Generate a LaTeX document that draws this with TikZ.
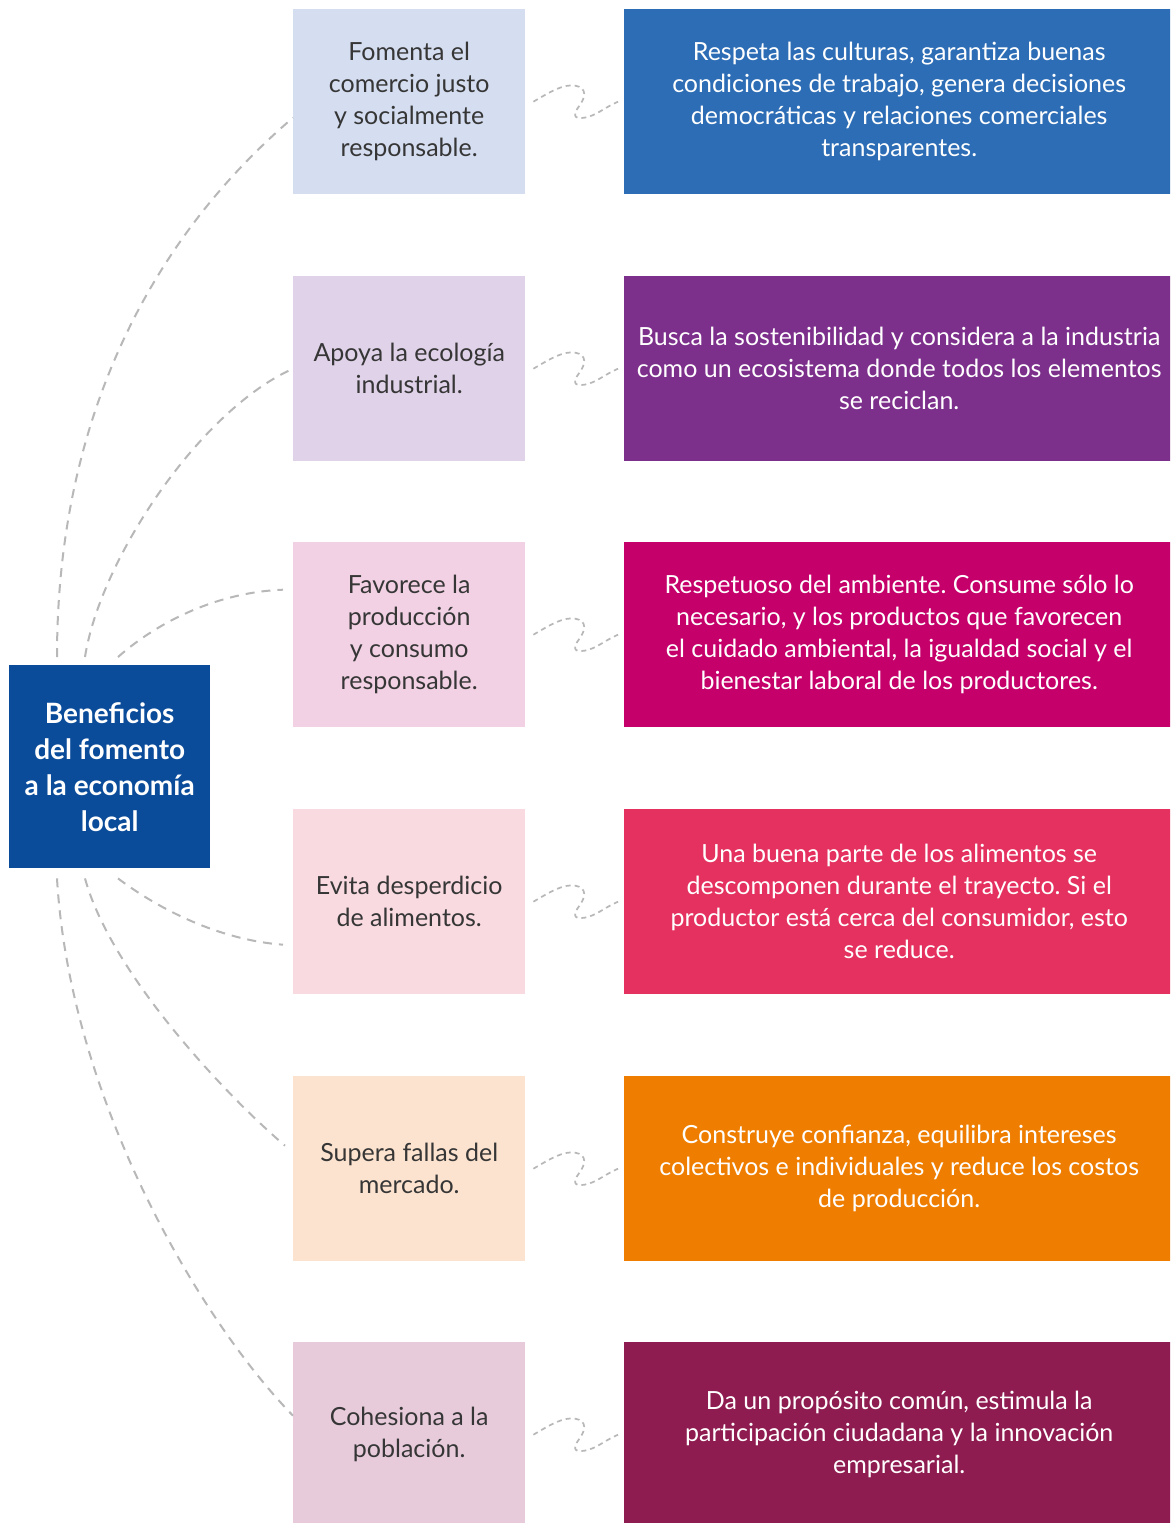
\documentclass[tikz,border=0pt]{standalone}
\usepackage{fontspec}
\setmainfont{Lato}
\frenchspacing
\definecolor{cmain}{HTML}{0A4B9A}
\definecolor{la}{HTML}{D5DEF1}
\definecolor{lb}{HTML}{E0D2E9}
\definecolor{lc}{HTML}{F1D1E3}
\definecolor{ld}{HTML}{F9DAE1}
\definecolor{le}{HTML}{FCE3CF}
\definecolor{lf}{HTML}{E7CBDB}
\definecolor{da}{HTML}{2D6DB5}
\definecolor{db}{HTML}{7D2F8C}
\definecolor{dc}{HTML}{C5006B}
\definecolor{dd}{HTML}{E5315F}
\definecolor{de}{HTML}{EF7E00}
\definecolor{df}{HTML}{8F1C51}
\definecolor{txt}{HTML}{363636}
\definecolor{ln}{HTML}{B8B8B8}
\begin{document}
\begin{tikzpicture}[x=1pt,y=-1pt,
  lightbox/.style={anchor=north west,minimum width=232pt,minimum height=185pt,inner sep=0pt,
    align=center,text=txt,font=\fontsize{25}{32}\selectfont},
  darkbox/.style={anchor=north west,minimum width=550pt,minimum height=185pt,inner sep=0pt,
    align=center,text=white,font=\fontsize{25}{32}\selectfont},
  mainbox/.style={anchor=north west,minimum width=201pt,minimum height=203pt,inner sep=0pt,
    align=center,text=white,fill=cmain,font=\fontsize{28}{36}\selectfont\bfseries},
  link/.style={draw=ln,line width=2pt,dash pattern=on 9pt off 7pt},
  squig/.style={draw=ln,line width=1.7pt,dash pattern=on 5pt off 4pt}]
\clip (0,0) rectangle (1170,1523);
\fill[white] (0,0) rectangle (1170,1523);

\node[mainbox] (c) at (9,665) {Beneficios\\del fomento\\a la economía\\local};

\node[lightbox,fill=la] (l1) at (293,9) {Fomenta el\\comercio justo\\y socialmente\\responsable.};
\node[lightbox,fill=lb] (l2) at (293,276) {Apoya la ecología\\industrial.};
\node[lightbox,fill=lc] (l3) at (293,542) {Favorece la\\producción\\y consumo\\responsable.};
\node[lightbox,fill=ld] (l4) at (293,809) {Evita desperdicio\\de alimentos.};
\node[lightbox,fill=le] (l5) at (293,1076) {Supera fallas del\\mercado.};
\node[lightbox,fill=lf] (l6) at (293,1342) {Cohesiona a la\\población.};

\node[darkbox,fill=da] (d1) at (624,9) {Respeta las culturas, garantiza buenas\\condiciones de trabajo, genera decisiones\\democráticas y relaciones comerciales\\transparentes.};
\node[darkbox,fill=db] (d2) at (624,276) {Busca la sostenibilidad y considera a la industria\\como un ecosistema donde todos los elementos\\se reciclan.};
\node[darkbox,fill=dc] (d3) at (624,542) {Respetuoso del ambiente. Consume sólo lo\\necesario, y los productos que favorecen\\el cuidado ambiental, la igualdad social y el\\bienestar laboral de los productores.};
\node[darkbox,fill=dd] (d4) at (624,809) {Una buena parte de los alimentos se\\descomponen durante el trayecto. Si el\\productor está cerca del consumidor, esto\\se reduce.};
\node[darkbox,fill=de] (d5) at (624,1076) {Construye confianza, equilibra intereses\\colectivos e individuales y reduce los costos\\de producción.};
\node[darkbox,fill=df] (d6) at (624,1342) {Da un propósito común, estimula la\\participación ciudadana y la innovación\\empresarial.};

% main connectors
\path[link] ([xshift=48pt,yshift=8pt]c.north west) .. controls (57,420) and (150,240) .. ([yshift=-16pt]l1.west);
\path[link] ([xshift=76pt,yshift=8pt]c.north west) .. controls (100,560) and (200,410) .. (l2.west);
\path[link] ([xshift=109pt,yshift=8pt]c.north west) .. controls (160,620) and (220,592) .. ([xshift=-10pt,yshift=45pt]l3.west);
\path[link] ([xshift=109pt,yshift=-10pt]c.south west) .. controls (160,910) and (220,940) .. ([xshift=-10pt,yshift=-43pt]l4.west);
\path[link] ([xshift=76pt,yshift=-10pt]c.south west) .. controls (110,970) and (220,1090) .. ([xshift=-8pt,yshift=23pt]l5.west);
\path[link] ([xshift=48pt,yshift=-10pt]c.south west) .. controls (70,1100) and (200,1320) .. ([yshift=19pt]l6.west);

% squiggles
\foreach \i in {1,...,6}{
  \path[squig] ([xshift=8pt]l\i.east) .. controls +(17,-10) and +(-12,-2) .. ++(42,-16)
     .. controls +(12,2) and +(6,-8) .. ++(4,20)
     .. controls +(-6,8) and +(-12,2) .. ++(5,12)
     .. controls +(12,-2) and +(-14,6) .. ([xshift=-6pt]d\i.west);
}
\end{tikzpicture}
\end{document}
